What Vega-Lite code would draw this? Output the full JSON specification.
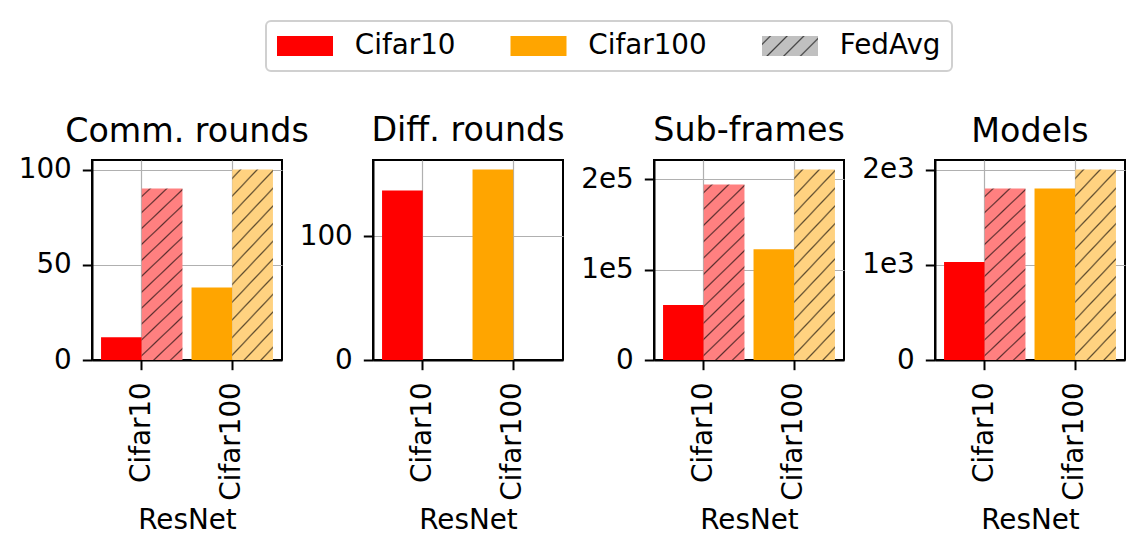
{
  "$schema": "https://vega.github.io/schema/vega-lite/v6.json",
  "background": "white",
  "padding": {"left": 17, "top": 20, "right": 15, "bottom": 10},
  "params": [
    {"name": "GR", "value": {"gradient": "linear", "x1": 0, "y1": 0, "x2": 0.2637, "y2": 1.1665, "stops": [
      {"offset": 0, "color": "#ff8080"},
      {"offset": 0.0302, "color": "#ff8080"}, {"offset": 0.0378, "color": "#5a2d2d"}, {"offset": 0.0454, "color": "#ff8080"},
      {"offset": 0.1059, "color": "#ff8080"}, {"offset": 0.1135, "color": "#5a2d2d"}, {"offset": 0.1211, "color": "#ff8080"},
      {"offset": 0.1816, "color": "#ff8080"}, {"offset": 0.1892, "color": "#5a2d2d"}, {"offset": 0.1968, "color": "#ff8080"},
      {"offset": 0.2572, "color": "#ff8080"}, {"offset": 0.2648, "color": "#5a2d2d"}, {"offset": 0.2724, "color": "#ff8080"},
      {"offset": 0.3329, "color": "#ff8080"}, {"offset": 0.3405, "color": "#5a2d2d"}, {"offset": 0.3481, "color": "#ff8080"},
      {"offset": 0.4086, "color": "#ff8080"}, {"offset": 0.4162, "color": "#5a2d2d"}, {"offset": 0.4238, "color": "#ff8080"},
      {"offset": 0.4842, "color": "#ff8080"}, {"offset": 0.4918, "color": "#5a2d2d"}, {"offset": 0.4994, "color": "#ff8080"},
      {"offset": 0.5599, "color": "#ff8080"}, {"offset": 0.5675, "color": "#5a2d2d"}, {"offset": 0.5751, "color": "#ff8080"},
      {"offset": 0.6356, "color": "#ff8080"}, {"offset": 0.6432, "color": "#5a2d2d"}, {"offset": 0.6508, "color": "#ff8080"},
      {"offset": 0.7113, "color": "#ff8080"}, {"offset": 0.7189, "color": "#5a2d2d"}, {"offset": 0.7265, "color": "#ff8080"},
      {"offset": 0.7869, "color": "#ff8080"}, {"offset": 0.7945, "color": "#5a2d2d"}, {"offset": 0.8021, "color": "#ff8080"},
      {"offset": 0.8626, "color": "#ff8080"}, {"offset": 0.8702, "color": "#5a2d2d"}, {"offset": 0.8778, "color": "#ff8080"},
      {"offset": 0.9383, "color": "#ff8080"}, {"offset": 0.9459, "color": "#5a2d2d"}, {"offset": 0.9535, "color": "#ff8080"},
      {"offset": 1, "color": "#ff8080"}]}},
    {"name": "GO", "value": {"gradient": "linear", "x1": 0, "y1": 0, "x2": 0.2637, "y2": 1.1665, "stops": [
      {"offset": 0, "color": "#ffd280"},
      {"offset": 0.0302, "color": "#ffd280"}, {"offset": 0.0378, "color": "#5e4c2e"}, {"offset": 0.0454, "color": "#ffd280"},
      {"offset": 0.1059, "color": "#ffd280"}, {"offset": 0.1135, "color": "#5e4c2e"}, {"offset": 0.1211, "color": "#ffd280"},
      {"offset": 0.1816, "color": "#ffd280"}, {"offset": 0.1892, "color": "#5e4c2e"}, {"offset": 0.1968, "color": "#ffd280"},
      {"offset": 0.2572, "color": "#ffd280"}, {"offset": 0.2648, "color": "#5e4c2e"}, {"offset": 0.2724, "color": "#ffd280"},
      {"offset": 0.3329, "color": "#ffd280"}, {"offset": 0.3405, "color": "#5e4c2e"}, {"offset": 0.3481, "color": "#ffd280"},
      {"offset": 0.4086, "color": "#ffd280"}, {"offset": 0.4162, "color": "#5e4c2e"}, {"offset": 0.4238, "color": "#ffd280"},
      {"offset": 0.4842, "color": "#ffd280"}, {"offset": 0.4918, "color": "#5e4c2e"}, {"offset": 0.4994, "color": "#ffd280"},
      {"offset": 0.5599, "color": "#ffd280"}, {"offset": 0.5675, "color": "#5e4c2e"}, {"offset": 0.5751, "color": "#ffd280"},
      {"offset": 0.6356, "color": "#ffd280"}, {"offset": 0.6432, "color": "#5e4c2e"}, {"offset": 0.6508, "color": "#ffd280"},
      {"offset": 0.7113, "color": "#ffd280"}, {"offset": 0.7189, "color": "#5e4c2e"}, {"offset": 0.7265, "color": "#ffd280"},
      {"offset": 0.7869, "color": "#ffd280"}, {"offset": 0.7945, "color": "#5e4c2e"}, {"offset": 0.8021, "color": "#ffd280"},
      {"offset": 0.8626, "color": "#ffd280"}, {"offset": 0.8702, "color": "#5e4c2e"}, {"offset": 0.8778, "color": "#ffd280"},
      {"offset": 0.9383, "color": "#ffd280"}, {"offset": 0.9459, "color": "#5e4c2e"}, {"offset": 0.9535, "color": "#ffd280"},
      {"offset": 1, "color": "#ffd280"}]}},
    {"name": "GG", "value": {"gradient": "linear", "x1": 0, "y1": 0, "x2": 1.2036, "y2": 0.4299, "stops": [
      {"offset": 0, "color": "#c0c0c0"},
      {"offset": 0.0879, "color": "#c0c0c0"}, {"offset": 0.1099, "color": "#3c3c3c"}, {"offset": 0.1319, "color": "#c0c0c0"},
      {"offset": 0.3076, "color": "#c0c0c0"}, {"offset": 0.3296, "color": "#3c3c3c"}, {"offset": 0.3516, "color": "#c0c0c0"},
      {"offset": 0.5273, "color": "#c0c0c0"}, {"offset": 0.5493, "color": "#3c3c3c"}, {"offset": 0.5713, "color": "#c0c0c0"},
      {"offset": 0.7470, "color": "#c0c0c0"}, {"offset": 0.7690, "color": "#3c3c3c"}, {"offset": 0.7910, "color": "#c0c0c0"},
      {"offset": 1, "color": "#c0c0c0"}]}}
  ],
  "data": {"values": [
    {"panel": "Comm. rounds", "dataset": "Cifar10", "method": "Ours", "value": 12},
    {"panel": "Comm. rounds", "dataset": "Cifar10", "method": "FedAvg", "value": 90},
    {"panel": "Comm. rounds", "dataset": "Cifar100", "method": "Ours", "value": 38},
    {"panel": "Comm. rounds", "dataset": "Cifar100", "method": "FedAvg", "value": 100},
    {"panel": "Diff. rounds", "dataset": "Cifar10", "method": "Ours", "value": 137},
    {"panel": "Diff. rounds", "dataset": "Cifar100", "method": "Ours", "value": 154},
    {"panel": "Sub-frames", "dataset": "Cifar10", "method": "Ours", "value": 61000},
    {"panel": "Sub-frames", "dataset": "Cifar10", "method": "FedAvg", "value": 194500},
    {"panel": "Sub-frames", "dataset": "Cifar100", "method": "Ours", "value": 122800},
    {"panel": "Sub-frames", "dataset": "Cifar100", "method": "FedAvg", "value": 211000},
    {"panel": "Models", "dataset": "Cifar10", "method": "Ours", "value": 1030},
    {"panel": "Models", "dataset": "Cifar10", "method": "FedAvg", "value": 1800},
    {"panel": "Models", "dataset": "Cifar100", "method": "Ours", "value": 1800},
    {"panel": "Models", "dataset": "Cifar100", "method": "FedAvg", "value": 2000}
  ]},
  "spacing": 91,
  "bounds": "flush",
  "hconcat": [
    {
      "title": {"text": "Comm. rounds", "offset": 6},
      "width": 190, "height": 200,
      "transform": [{"filter": "datum.panel === 'Comm. rounds'"}],
      "mark": {"type": "bar", "fill": {"expr": "datum.method === 'FedAvg' ? (datum.dataset === 'Cifar10' ? GR : GO) : (datum.value === 'FedAvg' ? GG : ((datum.dataset || datum.value) === 'Cifar10' ? '#ff0000' : '#ffa500'))"}},
      "encoding": {
        "x": {"field": "dataset", "type": "nominal", "scale": {"domain": ["Cifar10", "Cifar100"], "paddingInner": 0.1, "paddingOuter": 0.1}, "axis": {"title": "ResNet", "labelAngle": -90}},
        "xOffset": {"field": "method", "type": "nominal", "scale": {"domain": ["Ours", "FedAvg"], "paddingInner": 0, "paddingOuter": 0}},
        "y": {"field": "value", "type": "quantitative", "scale": {"domain": [0, 105], "nice": false}, "axis": {"title": null, "values": [0, 50, 100]}},
        "opacity": {"field": "dataset", "type": "nominal", "scale": {"domain": ["Cifar10", "Cifar100", "FedAvg"], "range": [1, 1, 1]},
          "legend": {"title": null, "orient": "none", "legendX": 174, "legendY": -139, "direction": "horizontal", "columns": 3}}
      }
    },
    {
      "title": {"text": "Diff. rounds", "offset": 12},
      "width": 190, "height": 200,
      "transform": [{"filter": "datum.panel === 'Diff. rounds'"}],
      "mark": {"type": "bar", "fill": {"expr": "datum.dataset === 'Cifar10' ? '#ff0000' : '#ffa500'"}},
      "encoding": {
        "x": {"field": "dataset", "type": "nominal", "scale": {"domain": ["Cifar10", "Cifar100"], "paddingInner": 0.1, "paddingOuter": 0.1}, "axis": {"title": "ResNet", "labelAngle": -90}},
        "xOffset": {"field": "method", "type": "nominal", "scale": {"domain": ["Ours", "FedAvg"], "paddingInner": 0, "paddingOuter": 0}},
        "y": {"field": "value", "type": "quantitative", "scale": {"domain": [0, 161.7], "nice": false}, "axis": {"title": null, "values": [0, 100]}}
      }
    },
    {
      "title": {"text": "Sub-frames", "offset": 12},
      "width": 190, "height": 200,
      "transform": [{"filter": "datum.panel === 'Sub-frames'"}],
      "mark": {"type": "bar", "fill": {"expr": "datum.method === 'FedAvg' ? (datum.dataset === 'Cifar10' ? GR : GO) : (datum.dataset === 'Cifar10' ? '#ff0000' : '#ffa500')"}},
      "encoding": {
        "x": {"field": "dataset", "type": "nominal", "scale": {"domain": ["Cifar10", "Cifar100"], "paddingInner": 0.1, "paddingOuter": 0.1}, "axis": {"title": "ResNet", "labelAngle": -90}},
        "xOffset": {"field": "method", "type": "nominal", "scale": {"domain": ["Ours", "FedAvg"], "paddingInner": 0, "paddingOuter": 0}},
        "y": {"field": "value", "type": "quantitative", "scale": {"domain": [0, 221550], "nice": false}, "axis": {"title": null, "values": [0, 100000, 200000], "labelExpr": "datum.value === 0 ? '0' : (datum.value / 100000) + 'e5'"}}
      }
    },
    {
      "title": {"text": "Models", "offset": 6},
      "width": 190, "height": 200,
      "transform": [{"filter": "datum.panel === 'Models'"}],
      "mark": {"type": "bar", "fill": {"expr": "datum.method === 'FedAvg' ? (datum.dataset === 'Cifar10' ? GR : GO) : (datum.dataset === 'Cifar10' ? '#ff0000' : '#ffa500')"}},
      "encoding": {
        "x": {"field": "dataset", "type": "nominal", "scale": {"domain": ["Cifar10", "Cifar100"], "paddingInner": 0.1, "paddingOuter": 0.1}, "axis": {"title": "ResNet", "labelAngle": -90}},
        "xOffset": {"field": "method", "type": "nominal", "scale": {"domain": ["Ours", "FedAvg"], "paddingInner": 0, "paddingOuter": 0}},
        "y": {"field": "value", "type": "quantitative", "scale": {"domain": [0, 2100], "nice": false}, "axis": {"title": null, "values": [0, 1000, 2000], "labelExpr": "datum.value === 0 ? '0' : (datum.value / 1000) + 'e3'"}}
      }
    }
  ],
  "config": {
    "font": "DejaVu Sans",
    "view": {"stroke": "black", "strokeWidth": 2},
    "axis": {
      "labelFont": "DejaVu Sans", "titleFont": "DejaVu Sans",
      "labelFontSize": 27.8, "titleFontSize": 27.8, "titleFontWeight": "normal",
      "labelColor": "black", "titleColor": "black",
      "domainColor": "black", "domainWidth": 2,
      "tickColor": "black", "tickWidth": 2, "tickSize": 9.7,
      "grid": true, "gridColor": "#b0b0b0", "gridWidth": 1.2,
      "labelPadding": 11, "zindex": 1, "labelOverlap": false
    },
    "axisX": {"labelPadding": 12, "titlePadding": 6},
    "title": {"font": "DejaVu Sans", "fontSize": 33.3, "fontWeight": "normal", "color": "black", "anchor": "middle", "frame": "group", "baseline": "alphabetic"},
    "legend": {
      "labelFont": "DejaVu Sans", "labelFontSize": 27.8, "labelColor": "black",
      "labelOffset": 50, "columnPadding": 54.5, "padding": 11, "rowPadding": 0,
      "strokeColor": "#d0d0d0", "strokeWidth": 2, "cornerRadius": 5, "fillColor": "white",
      "symbolType": "M-1.39,-1H4.21V1H-1.39Z", "symbolSize": 400, "symbolStrokeWidth": 0, "labelLimit": 0
    }
  }
}
